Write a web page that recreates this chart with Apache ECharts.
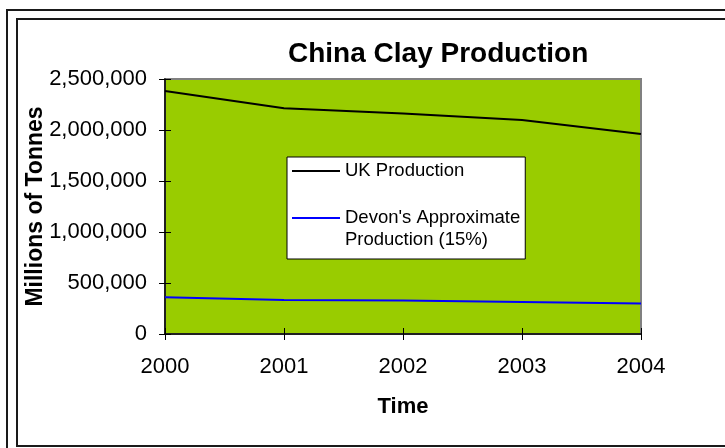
<!DOCTYPE html>
<html>
<head>
<meta charset="utf-8">
<script src="https://cdn.jsdelivr.net/npm/echarts@6/dist/echarts.min.js"></script>
<style>
html,body{margin:0;padding:0;background:#fff;}
#chart{width:725px;height:448px;}
</style>
</head>
<body>
<div id="chart"></div>
<script>
// ---- data ----
var years = ['2000', '2001', '2002', '2003', '2004'];
var ukProduction = [2382000, 2213000, 2162000, 2098000, 1960000];
var devonProduction = [360000, 333000, 328000, 314000, 298000];
var yTicks = [0, 500000, 1000000, 1500000, 2000000, 2500000];

var FONT = "'Liberation Sans', Arial, sans-serif";
var chart = echarts.init(document.getElementById('chart'), null, {renderer: 'canvas'});

var yMin = yTicks[0], yMax = yTicks[yTicks.length - 1], yStep = yTicks[1] - yTicks[0];
var ukName = 'UK Production';
var devonName = "Devon's Approximate\nProduction (15%)";

chart.setOption({
  backgroundColor: '#ffffff',
  animation: false,
  title: {
    text: 'China Clay Production',
    left: 288,
    top: 40,
    padding: 0,
    textStyle: {fontFamily: FONT, fontSize: 28, fontWeight: 'bold', color: '#000'}
  },
  graphic: [
    {type: 'rect', shape: {x: 7, y: 10, width: 800, height: 500}, style: {fill: 'none', stroke: '#1a1a1a', lineWidth: 2}, silent: true},
    {type: 'rect', shape: {x: 17, y: 19, width: 800, height: 427}, style: {fill: 'none', stroke: '#1a1a1a', lineWidth: 2}, silent: true}
  ],
  legend: {
    orient: 'vertical',
    left: 287,
    top: 157,
    padding: [3, 5, 8, 5],
    itemGap: 3,
    itemWidth: 48,
    itemHeight: 2,
    icon: 'rect',
    backgroundColor: '#ffffff',
    borderColor: '#000000',
    borderWidth: 1,
    borderRadius: 0,
    textStyle: {fontFamily: FONT, fontSize: 18.5, lineHeight: 22, color: '#000'},
    formatter: function (name) { return name === devonName ? '\n' + name : name; },
    data: [ukName, devonName]
  },
  grid: {
    left: 165, top: 79, right: 84, bottom: 114,
    show: true,
    backgroundColor: '#99CC00',
    borderColor: '#808080',
    borderWidth: 2
  },
  xAxis: [
    {
      type: 'category',
      data: years,
      boundaryGap: false,
      position: 'bottom',
      name: 'Time',
      nameLocation: 'middle',
      nameGap: 62,
      nameMoveOverlap: false,
      nameTextStyle: {fontFamily: FONT, fontSize: 22, fontWeight: 'bold', color: '#000'},
      axisLine: {show: true, onZero: false, lineStyle: {color: '#000', width: 1.5}},
      axisTick: {show: true, length: 6, lineStyle: {color: '#000', width: 1}},
      axisLabel: {fontFamily: FONT, fontSize: 22, color: '#000', margin: 22},
      splitLine: {show: false}
    },
    {
      type: 'category',
      data: years,
      boundaryGap: false,
      position: 'bottom',
      axisLine: {show: false},
      axisTick: {show: true, inside: true, length: 6, lineStyle: {color: '#000', width: 1}},
      axisLabel: {show: false},
      splitLine: {show: false}
    }
  ],
  yAxis: [
    {
      type: 'value',
      min: yMin, max: yMax, interval: yStep,
      position: 'left',
      name: 'Millions of Tonnes',
      nameLocation: 'middle',
      nameGap: 118,
      nameMoveOverlap: false,
      nameTextStyle: {fontFamily: FONT, fontSize: 23, fontWeight: 'bold', color: '#000'},
      axisLine: {show: true, lineStyle: {color: '#000', width: 1.5}},
      axisTick: {show: true, length: 6, lineStyle: {color: '#000', width: 1}},
      axisLabel: {
        fontFamily: FONT, fontSize: 22, color: '#000', margin: 18,
        formatter: function (v) { return v.toLocaleString('en-US'); }
      },
      splitLine: {show: false}
    },
    {
      type: 'value',
      min: yMin, max: yMax, interval: yStep,
      position: 'left',
      axisLine: {show: false},
      axisTick: {show: true, inside: true, length: 6, lineStyle: {color: '#000', width: 1}},
      axisLabel: {show: false},
      splitLine: {show: false}
    }
  ],
  series: [
    {
      name: ukName,
      type: 'line',
      data: ukProduction,
      xAxisIndex: 0, yAxisIndex: 0,
      symbol: 'none',
      lineStyle: {color: '#000000', width: 2},
      itemStyle: {color: '#000000'}
    },
    {
      name: devonName,
      type: 'line',
      data: devonProduction,
      xAxisIndex: 0, yAxisIndex: 0,
      symbol: 'none',
      lineStyle: {color: '#0000FF', width: 2},
      itemStyle: {color: '#0000FF'}
    }
  ]
});
</script>
</body>
</html>
